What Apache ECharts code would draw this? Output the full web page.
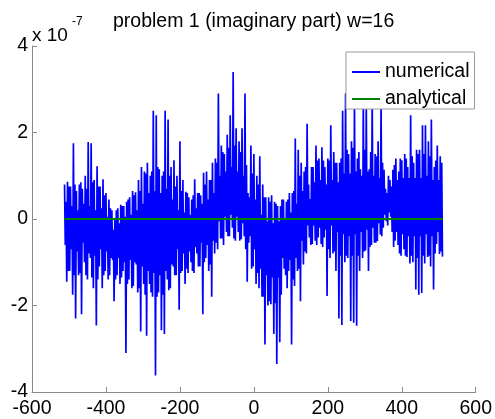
<!DOCTYPE html>
<html><head><meta charset="utf-8">
<script src="https://cdn.jsdelivr.net/npm/echarts@6/dist/echarts.min.js"></script>
<style>html,body{margin:0;padding:0;background:#fff}#c{width:495px;height:419px}</style>
</head><body><div id="c"></div>
<script>
// sample grid of the numerical series (x = xStart + xStep * i)
const xStart = -512, xStep = 2;
// numerical solution, imaginary part, in units of 1e-7
const numerical = [
 0.80,-0.60,0.40,-1.45, 0.86,-1.20,0.75,-1.20,
 0.75,-0.70,0.30,-1.75, 1.75,-1.30,0.80,-2.30,
 0.65,-0.75,0.20,-1.30, 0.80,-1.25,0.85,-2.20,
 0.70,-0.55,0.35,-1.00, 1.00,-1.30,0.70,-1.40,
 1.78,-0.80,0.30,-0.90, 1.75,-1.35,0.85,-1.60,
 0.90,-0.85,0.20,-2.46, 1.22,-1.40,0.75,-1.10,
 0.75,-0.70,0.25,-1.60, 0.92,-1.30,0.55,-1.20,
 0.60,-0.75,0.05,-1.40, 0.45,-1.30,0.25,-0.90,
 0.20,-0.95,-0.25,-1.90, 0.00,-1.40,0.20,-1.30,
 0.25,-0.90,-0.10,-1.50, 0.33,-1.35,0.30,-1.20,
 0.30,-1.00,0.05,-3.10, 0.40,-1.50,0.45,-1.40,
 0.50,-0.95,0.10,-1.60, 0.65,-1.55,0.55,-1.00,
 0.62,-1.05,0.20,-1.70, 0.90,-1.60,0.65,-2.60,
 1.20,-1.10,0.35,-1.50, 1.10,-1.75,1.05,-2.70,
 1.30,-1.20,0.60,-1.50, 1.00,-1.70,1.10,-1.80,
 2.50,-1.25,0.65,-3.62, 2.40,-1.80,1.20,-1.70,
 1.15,-1.30,0.60,-2.57, 1.00,-1.75,1.10,-2.66,
 2.50,-1.20,0.70,-1.40, 2.30,-1.65,1.00,-1.60,
 1.20,-1.05,0.45,-1.10, 1.36,-1.30,0.75,-1.30,
 1.00,-0.70,0.20,-2.10, 1.80,-1.25,0.65,-1.20,
 0.90,-0.80,0.15,-1.50, 0.63,-1.15,0.60,-1.25,
 0.50,-0.75,0.10,-1.00, 0.45,-1.20,0.55,-1.25,
 0.92,-0.65,0.25,-0.80, 0.60,-1.10,0.60,-1.10,
 0.55,-0.55,0.35,-2.20, 1.07,-1.00,0.80,-0.90,
 1.10,-0.60,0.45,-1.20, 0.90,-1.05,0.90,-1.80,
 1.30,-0.50,0.60,-0.80, 1.40,-0.55,1.30,-0.70,
 2.90,-0.05,1.00,-0.45, 1.70,-0.45,1.55,-0.60,
 1.50,0.05,1.10,-0.30, 1.95,-0.40,1.65,-0.40,
 2.40,0.10,1.20,-0.20, 3.40,-0.45,1.70,-0.50,
 2.10,0.05,1.10,-0.30, 1.80,-0.50,1.55,-0.47,
 2.10,-0.10,1.00,-0.40, 2.90,-0.70,1.25,-1.45,
 0.60,-0.55,0.50,-0.40, 1.70,-1.15,1.05,-1.10,
 1.50,-0.70,0.45,-1.50, 1.00,-1.25,0.80,-1.60,
 1.45,-1.15,0.10,-1.80, 0.80,-1.80,0.50,-2.90,
 0.50,-1.30,-0.05,-2.00, 0.50,-1.90,0.40,-1.97,
 0.55,-1.35,-0.10,-2.66, 0.40,-1.95,0.35,-3.35,
 0.30,-1.35,-0.05,-2.85, 0.30,-1.75,0.45,-0.90,
 0.45,-1.15,0.00,-1.30, 0.40,-1.60,0.45,-1.20,
 0.60,-0.95,0.15,-2.90, 0.60,-1.40,0.65,-1.55,
 1.86,-0.90,0.35,-1.20, 1.60,-1.15,1.00,-1.90,
 1.30,-0.50,0.65,-1.05, 1.10,-0.75,1.20,-0.80,
 2.20,-0.15,0.80,-0.43, 0.46,-0.60,1.20,-0.58,
 1.20,-0.15,0.85,-0.50, 1.70,-0.60,1.35,-0.43,
 1.40,-0.20,0.90,-0.58, 1.66,-0.65,1.35,-0.43,
 1.20,-0.25,0.80,-1.78, 1.40,-0.70,1.35,-0.90,
 2.17,-0.15,0.90,-0.80, 1.55,-0.75,1.30,-1.20,
 1.30,-0.30,0.85,-2.30, 1.30,-0.85,1.40,-2.45,
 2.50,-0.35,1.05,-1.00, 2.90,-0.85,1.60,-0.90,
 1.50,-0.40,1.05,-2.36, 1.80,-0.85,1.65,-2.40,
 2.80,-0.35,1.10,-2.47, 1.40,-0.85,1.55,-1.20,
 1.15,-0.30,1.00,-0.90, 2.80,-0.75,1.60,-0.73,
 2.70,-0.25,1.10,-1.20, 1.15,-0.65,1.55,-0.60,
 2.80,-0.20,1.00,-0.55, 1.50,-0.55,1.45,-0.51,
 1.80,-0.10,0.95,-0.36, 2.70,-0.40,1.30,-0.20,
 1.14,0.10,0.70,-0.05, 0.60,-0.15,1.00,0.15,
 0.90,0.05,0.75,-0.30, 1.14,-0.65,1.25,-0.50,
 1.40,-0.30,0.90,-0.60, 1.10,-0.80,1.40,-0.85,
 1.36,-0.35,0.95,-0.70, 1.50,-0.85,1.40,-0.88,
 1.20,-0.40,0.95,-1.03, 2.40,-0.85,1.45,-1.00,
 1.30,-0.40,0.95,-1.63, 1.60,-0.90,1.50,-1.75,
 1.60,-0.40,0.95,-1.71, 2.17,-0.85,1.50,-1.03,
 2.17,-0.35,1.00,-0.88, 1.80,-0.85,1.45,-1.10,
 2.30,-0.40,0.90,-1.63, 1.20,-0.80,1.35,-0.58,
 1.70,-0.30,0.90,-0.81, 1.45,-0.75,1.30,-0.87
];
// analytical solution (zero imaginary part)
const analyticalX = [-512, 511];
const analytical = [0, 0];
// axes
const xMin = -600, xMax = 600, xInterval = 200;
const yMin = -4, yMax = 4, yInterval = 2;
const titleText = 'problem 1 (imaginary part) w=16';
const seriesNames = ['numerical', 'analytical'];

const numData = numerical.map((v, i) => [xStart + xStep * i, v]);
const anaData = analytical.map((v, i) => [analyticalX[i], v]);

const FONT = '"Liberation Sans", Arial, Helvetica, sans-serif';
const chart = echarts.init(document.getElementById('c'), null, {renderer: 'canvas'});
chart.setOption({
  animation: false,
  backgroundColor: '#fff',
  textStyle: {fontFamily: FONT},
  grid: {left: 32, right: 17, top: 46, bottom: 25, containLabel: false},
  xAxis: {
    type: 'value', min: xMin, max: xMax, interval: xInterval,
    axisLine: {show: true, onZero: false, lineStyle: {color: '#8a8a8a', width: 1}},
    axisTick: {show: true, inside: true, length: 5, lineStyle: {color: '#8a8a8a'}},
    axisLabel: {color: '#000', fontSize: 19.5, fontFamily: FONT, margin: 7, showMinLabel: true, showMaxLabel: true},
    splitLine: {show: false}
  },
  yAxis: {
    type: 'value', min: yMin, max: yMax, interval: yInterval,
    axisLine: {show: true, onZero: false, lineStyle: {color: '#8a8a8a', width: 1}},
    axisTick: {show: true, inside: true, length: 5, lineStyle: {color: '#8a8a8a'}},
    axisLabel: {color: '#000', fontSize: 19.5, fontFamily: FONT, margin: 4, showMinLabel: true, showMaxLabel: true},
    splitLine: {show: false}
  },
  legend: {
    orient: 'vertical', left: 346, top: 52,
    data: seriesNames,
    icon: 'rect', itemWidth: 28, itemHeight: 2, itemGap: 7,
    padding: [10, 5, 0, 6],
    backgroundColor: '#fff', borderColor: '#9a9a9a', borderWidth: 1, borderRadius: 0,
    textStyle: {fontSize: 19.5, color: '#000', fontFamily: FONT},
    selectedMode: false, z: 10
  },
  graphic: [
    {type: 'text', left: 113, top: 12, z: 20, style: {text: titleText, font: '19.5px ' + FONT, fill: '#000'}},
    {type: 'text', left: 32, top: 26, z: 20, style: {text: 'x 10', font: '19px ' + FONT, fill: '#000'}},
    {type: 'text', left: 72, top: 16, z: 20, style: {text: '-7', font: '12px ' + FONT, fill: '#000'}}
  ],
  series: [
    {name: seriesNames[0], type: 'line', data: numData, showSymbol: false, symbol: 'none',
     color: '#0000ff', lineStyle: {color: '#0000ff', width: 1.7}, z: 2, silent: true},
    {name: seriesNames[1], type: 'line', data: anaData, showSymbol: false, symbol: 'none',
     color: '#008000', lineStyle: {color: '#008000', width: 2}, z: 3, silent: true}
  ]
});
</script></body></html>
